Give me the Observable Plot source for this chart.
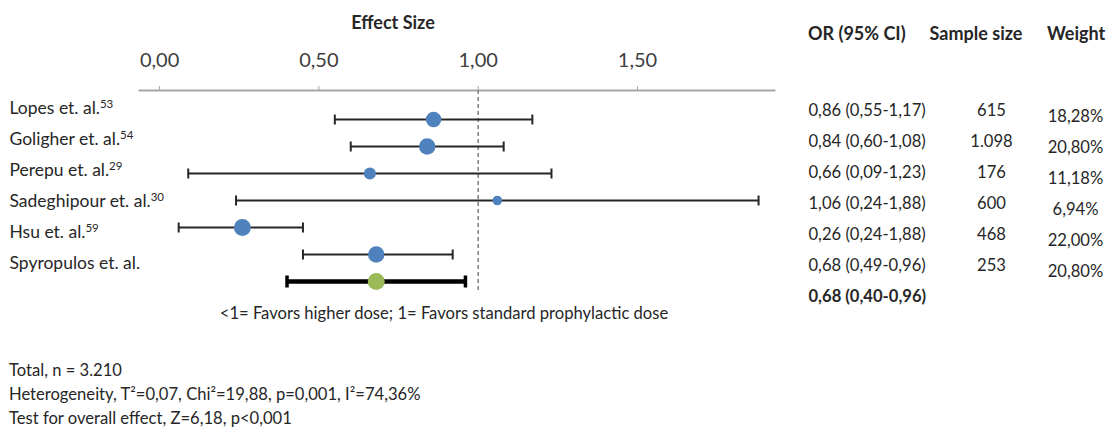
<!DOCTYPE html>
<html><head><meta charset="utf-8">
<script src="https://cdn.jsdelivr.net/npm/d3@7"></script>
<script src="https://cdn.jsdelivr.net/npm/@observablehq/plot@0.6"></script>
<style>
body{margin:0;background:#fff;}
#chart{position:relative;width:1111px;height:427px;font-family:Lato,sans-serif;color:#262626;overflow:hidden;background:#fff;}
#chart > *{position:absolute;}
.t{white-space:nowrap;line-height:20px;}
.b{font-weight:bold;font-size:18px;}
.n{font-size:16.6px;}
</style></head><body><div id="chart"></div>
<script>
// ---- data ----
const studies = ["Lopes et. al.", "Goligher et. al.", "Perepu et. al.", "Sadeghipour et. al.", "Hsu et. al.", "Spyropulos et. al."];
const refs = ["53", "54", "29", "30", "59", ""];
const orValues = [0.86, 0.84, 0.66, 1.06, 0.26, 0.68];
const ciLow = [0.55, 0.60, 0.09, 0.24, 0.06, 0.45];
const ciHigh = [1.17, 1.08, 1.23, 1.88, 0.45, 0.92];
const weights = [18.28, 20.80, 11.18, 6.94, 22.00, 20.80];
const orLabels = ["0,86 (0,55-1,17)", "0,84 (0,60-1,08)", "0,66 (0,09-1,23)", "1,06 (0,24-1,88)", "0,26 (0,24-1,88)", "0,68 (0,49-0,96)"];
const sampleLabels = ["615", "1.098", "176", "600", "468", "253"];
const weightLabels = ["18,28%", "20,80%", "11,18%", "6,94%", "22,00%", "20,80%"];
const pooledName = "Overall";
const pooledOR = 0.68, pooledLow = 0.40, pooledHigh = 0.96;
const pooledLabel = "0,68 (0,40-0,96)";
const xTicks = [0, 0.5, 1, 1.5];
const xDomain = [-0.063, 1.93];
const footerLines = ["Total, n = 3.210", "Heterogeneity, T²=0,07, Chi²=19,88, p=0,001, I²=74,36%", "Test for overall effect, Z=6,18, p<0,001"];

// ---- build ----
const blue = "#4F81BD", green = "#9BBB59";
const rowIds = [...studies, pooledName];
const rows = studies.map((s, i) => ({id: s, or: orValues[i], lo: ciLow[i], hi: ciHigh[i], w: weights[i]}));
const caps = rows.flatMap(d => [{id: d.id, x: d.lo}, {id: d.id, x: d.hi}]);
const pooled = [{id: pooledName, or: pooledOR, lo: pooledLow, hi: pooledHigh}];
const pooledCaps = [{id: pooledName, x: pooledLow}, {id: pooledName, x: pooledHigh}];
const fmt = d => d3.format(".2f")(d).replace(".", ",");
const capSymbol = {draw(ctx, size) { const r = Math.sqrt(size / Math.PI); ctx.moveTo(0, -r); ctx.lineTo(0, r); }};
const chart = document.getElementById("chart");

const forest = Plot.plot({
  width: 800, height: 300, marginLeft: 139, marginRight: 26, marginTop: 90, marginBottom: 10,
  style: {fontFamily: "Lato, sans-serif", fontSize: "20px", color: "#404040", background: "transparent"},
  x: {domain: xDomain},
  y: {type: "point", domain: rowIds, padding: 0, insetTop: 28, insetBottom: 9, axis: null},
  r: {domain: [0, 22], range: [0, 8.5]},
  marks: [
    Plot.frame({anchor: "top", stroke: "#a6a6a6", strokeWidth: 2}),
    Plot.axisX({anchor: "top", ticks: xTicks, tickFormat: fmt, tickSize: 5, tickPadding: 19, stroke: "#a6a6a6", fill: "#404040", fontSize: 20, label: null}),
    Plot.ruleX([1], {stroke: "#7f7f7f", strokeWidth: 1.5, strokeDasharray: "4,3"}),
    Plot.ruleY(rows, {y: "id", x1: "lo", x2: "hi", stroke: "#262626", strokeWidth: 2}),
    Plot.dot(caps, {x: "x", y: "id", symbol: capSymbol, r: 5, fill: "none", stroke: "#262626", strokeWidth: 2}),
    Plot.dot(rows, {x: "or", y: "id", r: "w", fill: blue}),
    Plot.ruleY(pooled, {y: "id", x1: "lo", x2: "hi", stroke: "#000", strokeWidth: 4.5}),
    Plot.dot(pooledCaps, {x: "x", y: "id", symbol: capSymbol, r: 6, fill: "none", stroke: "#000", strokeWidth: 3.5}),
    Plot.dot(pooled, {x: "or", y: "id", r: 8.5, fill: green})
  ]
});
forest.style.left = "0px"; forest.style.top = "0px";
chart.appendChild(forest);

function column(values, {left, width, anchor = "middle", dy = 0, marginLeft = 0, fontSize = 16.6, bold = []}) {
  const data = values.map((t, i) => ({id: rowIds[i], t, bold: bold.includes(i)})).filter(d => d.t);
  const opts = {y: "id", text: "t", frameAnchor: anchor, textAnchor: anchor === "left" ? "start" : "middle", dy, fill: "#262626"};
  const p = Plot.plot({
    width, height: 320, marginTop: 109, marginBottom: 24, marginLeft, marginRight: 0,
    style: {fontFamily: "Lato, sans-serif", fontSize: fontSize + "px", color: "#262626", background: "transparent"},
    y: {type: "point", domain: rowIds, padding: 0, axis: null},
    marks: [
      Plot.text(data.filter(d => !d.bold), opts),
      Plot.text(data.filter(d => d.bold), {...opts, fontWeight: "bold"})
    ]
  });
  p.style.left = left + "px"; p.style.top = "0px";
  chart.appendChild(p);
  return p;
}

const labelPlot = column(studies, {left: 0, width: 260, anchor: "left", marginLeft: 9, dy: -2, fontSize: 17.5});
labelPlot.querySelectorAll("text").forEach(el => {
  const i = studies.indexOf(el.textContent);
  if (i >= 0 && refs[i]) {
    const ts = document.createElementNS("http://www.w3.org/2000/svg", "tspan");
    ts.setAttribute("dy", "-6");
    ts.setAttribute("font-size", "11.5");
    ts.textContent = refs[i];
    el.appendChild(ts);
  }
});
column([...orLabels, pooledLabel], {left: 808, width: 150, anchor: "left", bold: [6]});
column(sampleLabels, {left: 941, width: 100});
column(weightLabels, {left: 1035, width: 80, dy: 6});

function addText(txt, cls, left, top, center) {
  const d = document.createElement("div");
  d.className = "t " + cls;
  d.textContent = txt;
  d.style.left = left + "px"; d.style.top = top + "px";
  if (center) d.style.transform = "translateX(-50%)";
  chart.appendChild(d);
}
addText("Effect Size", "b", 393, 12, true);
addText("OR (95% CI)", "b", 808, 23, false);
addText("Sample size", "b", 976, 23, true);
addText("Weight", "b", 1047, 23, false);
addText("<1= Favors higher dose; 1= Favors standard prophylactic dose", "n", 444, 303, true);
footerLines.forEach((l, i) => addText(l, "n", 9, 360 + i * 24, false));
</script></body></html>
